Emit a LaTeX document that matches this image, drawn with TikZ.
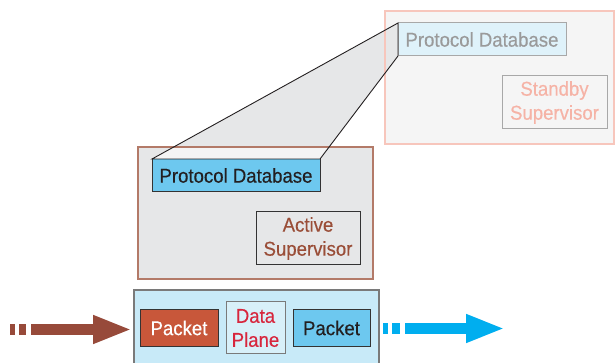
\documentclass[tikz,border=0pt]{standalone}
\usepackage{fontspec}
\setmainfont{Liberation Sans}[FakeStretch=0.93,FakeBold=0.35]
\usetikzlibrary{arrows.meta, positioning}

\definecolor{sbyfill}{HTML}{F5F5F5}
\definecolor{sbyline}{HTML}{F7C6BC}
\definecolor{sbytext}{HTML}{F5B3A6}
\definecolor{dimtext}{HTML}{9A9A9A}
\definecolor{dimline}{HTML}{A8A8A8}
\definecolor{paleblue}{HTML}{DFF2FA}
\definecolor{actfill}{HTML}{E6E7E8}
\definecolor{actline}{HTML}{B37A68}
\definecolor{acttext}{HTML}{9A4E38}
\definecolor{dbblue}{HTML}{6DC8EF}
\definecolor{darkline}{HTML}{333333}
\definecolor{inktext}{HTML}{231F20}
\definecolor{zoomlight}{HTML}{F4F4F4}
\definecolor{dpfill}{HTML}{C8EAF8}
\definecolor{dpline}{HTML}{7A7A7A}
\definecolor{dptext}{HTML}{D7263D}
\definecolor{pktred}{HTML}{C8573A}
\definecolor{inbrown}{HTML}{974A3A}
\definecolor{outcyan}{HTML}{00AEEF}

\begin{document}
\begin{tikzpicture}[x=1pt,y=-1pt,
    box/.style={draw,rectangle,line width=1pt,outer sep=0pt,inner sep=0pt,align=center,font=\fontsize{20}{24}\selectfont},
    zone/.style={draw,rectangle,line width=1.2pt,outer sep=0pt,inner sep=0pt},
    fatarrow/.style={line width=11pt,-{Triangle[length=39pt,width=26pt]}}]
    \useasboundingbox (0,0) rectangle (616,363);
    % standby supervisor
    \node (sby) [zone,fill=sbyfill,draw=sbyline,minimum width=229pt,minimum height=133pt] at (499.5,77.5) {};
    \node (tpdb) [box,fill=paleblue,draw=dimline,text=dimtext,minimum width=168pt,minimum height=33pt] at (482,39.5) {Protocol Database};
    \node (ssup) [box,draw=dimline,text=sbytext,minimum width=105pt,minimum height=53pt] at (554.5,102.5) {Standby\\Supervisor};
    % active supervisor
    \node (act) [zone,fill=actfill,draw=actline,minimum width=235pt,minimum height=132pt] at (255.5,213) {};
    \node (lpdb) [box,fill=dbblue,draw=darkline,text=inktext,minimum width=168pt,minimum height=33pt] at (236,175.5) {Protocol Database};
    \node (asup) [box,draw=darkline,text=acttext,minimum width=104pt,minimum height=53pt] at (308,238.5) {Active\\Supervisor};
    % zoom between the two databases
    \fill[actfill] (lpdb.north west) -- (tpdb.north west) -- (tpdb.south west) -- (lpdb.north east) -- cycle;
    \begin{scope}
        \clip (act.north west) rectangle (act.south east);
        \fill[zoomlight] (lpdb.north west) -- (tpdb.north west) -- (tpdb.south west) -- (lpdb.north east) -- cycle;
    \end{scope}
    \draw[actline,line width=1.2pt] (act.north west) rectangle (act.south east);
    \draw[sbyline,line width=1.2pt] (sby.north west) rectangle (sby.south east);
    \draw[inktext,line width=0.9pt] (lpdb.north west) -- (tpdb.north west) -- (tpdb.south west) -- (lpdb.north east) -- cycle;
    % data plane
    \node (dpl) [zone,fill=dpfill,draw=dpline,minimum width=245pt,minimum height=75pt] at (256.5,327.5) {};
    \node (dpt) [box,fill=paleblue!70!dpfill,draw=dpline,text=dptext,minimum width=59pt,minimum height=52pt] at (255.5,328) {Data\\Plane};
    \node (pin) [box,fill=pktred,draw=darkline,text=white,minimum width=78pt,minimum height=37pt,left=8pt of dpt] {Packet};
    \node (pout) [box,fill=dbblue,draw=darkline,text=inktext,minimum width=77pt,minimum height=37pt,right=8pt of dpt] {Packet};
    % packet flow
    \coordinate (src) at (10,329.5);
    \coordinate (dst) at (505,328.5);
    \draw[fatarrow,inbrown,dash pattern=on 5pt off 4pt on 7pt off 5pt on 300pt,shorten >=2pt] (src) -- (src -| dpl.west);
    \draw[fatarrow,outcyan,dash pattern=on 5pt off 4pt on 8pt off 5pt on 300pt,shorten <=4pt] (dst -| dpl.east) -- (dst);
\end{tikzpicture}
\end{document}
